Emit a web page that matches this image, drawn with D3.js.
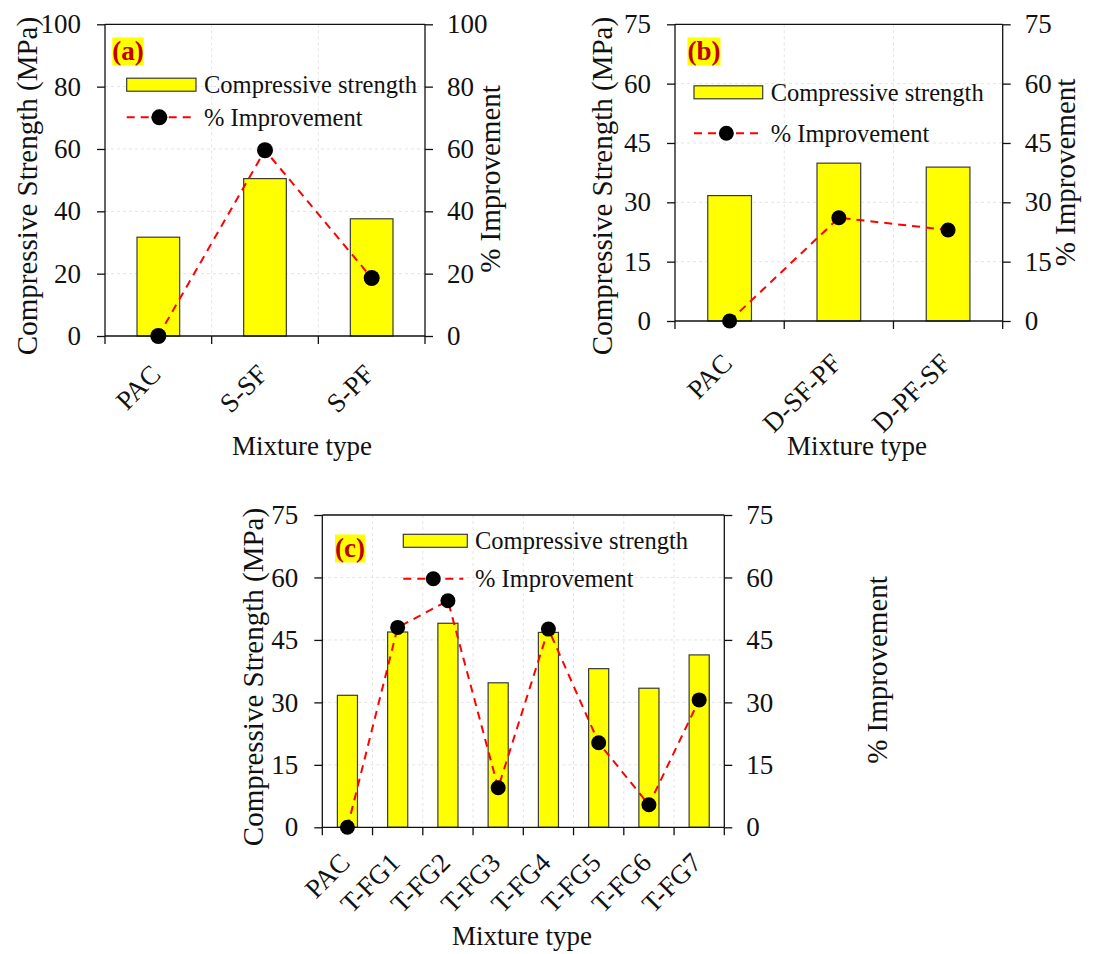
<!DOCTYPE html>
<html>
<head>
<meta charset="utf-8">
<script src="https://cdn.jsdelivr.net/npm/d3@7"></script>
<style>
  body { margin: 0; background: #fff; }
  text { font-family: "Liberation Serif", "Times New Roman", serif; fill: #111; }
</style>
</head>
<body>
<svg width="1120" height="954"></svg>
<script>
// data
const catsA = ['PAC', 'S-SF', 'S-PF'];
const strengthA = [31.7, 50.5, 37.6];
const improveA = [0, 59.6, 18.6];

const catsB = ['PAC', 'D-SF-PF', 'D-PF-SF'];
const strengthB = [31.7, 39.9, 38.9];
const improveB = [0, 26.1, 23.0];

const catsC = ['PAC', 'T-FG1', 'T-FG2', 'T-FG3', 'T-FG4', 'T-FG5', 'T-FG6', 'T-FG7'];
const strengthC = [31.7, 46.9, 49.0, 34.7, 46.8, 38.1, 33.4, 41.4];
const improveC = [0, 48.0, 54.4, 9.5, 47.6, 20.3, 5.4, 30.6];

const ticksA = [0, 20, 40, 60, 80, 100];
const ticksBC = [0, 15, 30, 45, 60, 75];

const svg = d3.select('svg');

/**
 * Draw one panel.
 */
function drawPanel(p) {
    const g = svg.append('g');
    const ymax = p.ticks[p.ticks.length - 1];

    const x = d3.scaleBand()
        .domain(p.cats)
        .range([p.left, p.right])
        .paddingInner(0).paddingOuter(0);
    const y = d3.scaleLinear().domain([0, ymax]).range([p.bottom, p.top]);

    // grid
    g.selectAll('.hgrid')
        .data(p.ticks.slice(1, -1))
        .enter().append('line')
        .attr('x1', p.left).attr('x2', p.right)
        .attr('y1', d => y(d)).attr('y2', d => y(d))
        .attr('stroke', '#e4e4e4').attr('stroke-dasharray', '3,3');
    g.selectAll('.vgrid')
        .data(p.cats.slice(1))
        .enter().append('line')
        .attr('x1', d => x(d)).attr('x2', d => x(d))
        .attr('y1', p.top).attr('y2', p.bottom)
        .attr('stroke', '#e4e4e4').attr('stroke-dasharray', '3,3');

    // bars
    const bw = x.bandwidth() * 0.4;
    g.selectAll('.bar')
        .data(p.cats)
        .enter().append('rect')
        .attr('x', d => x(d) + x.bandwidth() / 2 - bw / 2)
        .attr('width', bw)
        .attr('y', (d, i) => y(p.strength[i]))
        .attr('height', (d, i) => p.bottom - y(p.strength[i]))
        .attr('fill', '#ffff00')
        .attr('stroke', '#3a3a3a')
        .attr('stroke-width', 1.2);

    // axes
    const left = d3.axisLeft(y).tickValues(p.ticks).tickSize(8).tickPadding(16);
    const right = d3.axisRight(y).tickValues(p.ticks).tickSize(8).tickPadding(14);
    const bottom = d3.axisBottom(x).tickSize(8).tickFormat('');

    const gl = g.append('g').attr('transform', `translate(${p.left},0)`).call(left);
    const gr = g.append('g').attr('transform', `translate(${p.right},0)`).call(right);
    [gl, gr].forEach(a => {
        a.select('.domain').remove();
        a.append('line').attr('y1', p.top).attr('y2', p.bottom).attr('stroke', '#111').attr('stroke-width', 1.3);
        a.selectAll('.tick line').attr('stroke', '#111').attr('stroke-width', 1.3);
        a.selectAll('.tick text')
            .style('font-family', '"Liberation Serif", serif')
            .style('font-size', '27px')
            .attr('fill', '#111');
    });

    const gb = g.append('g').attr('transform', `translate(0,${p.bottom})`).call(bottom);
    gb.select('.domain').remove();
    gb.selectAll('.tick').remove();
    gb.selectAll('.btick')
        .data(p.cats.concat(['__end']))
        .enter().append('line')
        .attr('x1', (d, i) => i < p.cats.length ? x(d) : p.right)
        .attr('x2', (d, i) => i < p.cats.length ? x(d) : p.right)
        .attr('y1', 0).attr('y2', 8)
        .attr('stroke', '#111').attr('stroke-width', 1.3);
    // bottom + top frame
    g.append('line').attr('x1', p.left).attr('x2', p.right)
        .attr('y1', p.bottom).attr('y2', p.bottom).attr('stroke', '#111').attr('stroke-width', 1.3);
    g.append('line').attr('x1', p.left).attr('x2', p.right)
        .attr('y1', p.top).attr('y2', p.top).attr('stroke', '#111').attr('stroke-width', 1.3);

    // rotated category labels
    g.selectAll('.xlab')
        .data(p.cats)
        .enter().append('text')
        .attr('transform', d => `translate(${x(d) + x.bandwidth() / 2 + 4},${p.bottom + p.xlabOff}) rotate(-45)`)
        .attr('text-anchor', 'end')
        .style('font-size', '27px')
        .text(d => d);

    // improvement line
    const cx = d => x(d) + x.bandwidth() / 2;
    const line = d3.line()
        .x((d, i) => cx(p.cats[i]))
        .y(d => y(d));
    g.append('path')
        .datum(p.improve)
        .attr('d', line)
        .attr('fill', 'none')
        .attr('stroke', '#ff0000')
        .attr('stroke-width', 2)
        .attr('stroke-dasharray', '8,6');
    g.selectAll('.dot')
        .data(p.improve)
        .enter().append('circle')
        .attr('cx', (d, i) => cx(p.cats[i]))
        .attr('cy', d => y(d))
        .attr('r', p.r)
        .attr('fill', '#000');

    // axis titles
    g.append('text')
        .attr('transform', `translate(${p.ltitle[0]},${p.ltitle[1]}) rotate(-90)`)
        .attr('text-anchor', 'middle').attr('dy', '0.35em')
        .style('font-size', '29px')
        .text('Compressive Strength (MPa)');
    g.append('text')
        .attr('transform', `translate(${p.rtitle[0]},${p.rtitle[1]}) rotate(-90)`)
        .attr('text-anchor', 'middle').attr('dy', '0.35em')
        .style('font-size', '29px')
        .text('% Improvement');
    g.append('text')
        .attr('x', p.xtitle[0]).attr('y', p.xtitle[1])
        .attr('text-anchor', 'middle')
        .style('font-size', '27px')
        .text('Mixture type');

    // panel tag
    const tag = g.append('text')
        .attr('x', p.tag[0]).attr('y', p.tag[1])
        .attr('text-anchor', 'middle').attr('dy', '0.35em')
        .style('font-size', '27px').style('font-weight', 'bold')
        .style('fill', '#c00000')
        .text(p.label);
    const bb = tag.node().getBBox();
    g.insert('rect', () => tag.node())
        .attr('x', bb.x).attr('y', bb.y + 1)
        .attr('width', bb.width).attr('height', bb.height - 2)
        .attr('fill', '#ffff00');

    // legend
    const L = p.legend;
    g.append('rect')
        .attr('x', L.x).attr('y', L.y1 - 6.5)
        .attr('width', L.w).attr('height', 13)
        .attr('fill', '#ffff00').attr('stroke', '#3a3a3a').attr('stroke-width', 1.2);
    g.append('text').attr('x', L.tx).attr('y', L.y1).attr('dy', '0.35em')
        .style('font-size', '24.5px').text('Compressive strength');
    g.append('line')
        .attr('x1', L.x).attr('x2', L.x + L.w - 4)
        .attr('y1', L.y2).attr('y2', L.y2)
        .attr('stroke', '#ff0000').attr('stroke-width', 2).attr('stroke-dasharray', '8,6');
    g.append('circle').attr('cx', L.x + (L.w - 4) / 2).attr('cy', L.y2).attr('r', p.r).attr('fill', '#000');
    g.append('text').attr('x', L.tx).attr('y', L.y2).attr('dy', '0.35em')
        .style('font-size', '24.5px').text('% Improvement');
}

drawPanel({
    cats: catsA, strength: strengthA, improve: improveA, ticks: ticksA,
    left: 105, right: 425, top: 24.3, bottom: 336, xlabOff: 40, r: 8,
    ltitle: [27, 186], rtitle: [490, 179], xtitle: [302, 455],
    label: '(a)', tag: [128, 51],
    legend: { x: 126.7, w: 69.3, y1: 84.7, y2: 117.3, tx: 204 }
});

drawPanel({
    cats: catsB, strength: strengthB, improve: improveB, ticks: ticksBC,
    left: 675, right: 1002.7, top: 24.3, bottom: 321, xlabOff: 44, r: 7.5,
    ltitle: [602, 186], rtitle: [1065, 172.5], xtitle: [857, 455],
    label: '(b)', tag: [704, 51],
    legend: { x: 694, w: 68.7, y1: 92.3, y2: 133.3, tx: 770.7 }
});

drawPanel({
    cats: catsC, strength: strengthC, improve: improveC, ticks: ticksBC,
    left: 322.3, right: 724.3, top: 515, bottom: 827.3, xlabOff: 37, r: 7.5,
    ltitle: [253, 677], rtitle: [877, 670], xtitle: [522, 945],
    label: '(c)', tag: [350, 548],
    legend: { x: 403.3, w: 64, y1: 540.8, y2: 578.7, tx: 475 }
});
</script>
</body>
</html>
